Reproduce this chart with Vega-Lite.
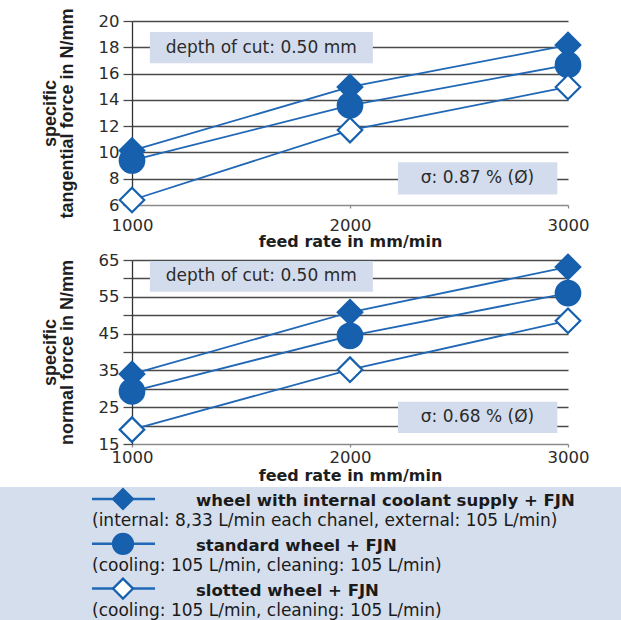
{
  "$schema": "https://vega.github.io/schema/vega-lite/v6.json",
  "background": "white",
  "padding": {"left": 0, "top": 7, "right": 0, "bottom": 0},
  "bounds": "flush",
  "spacing": 55,
  "config": {
    "font": "DejaVu Sans",
    "view": {"stroke": null},
    "axis": {
      "labelFont": "DejaVu Sans",
      "labelFontSize": 16.5,
      "labelColor": "#2b2b2b",
      "titleFont": "DejaVu Sans",
      "titleFontSize": 16,
      "titleFontWeight": "bold",
      "titleColor": "#1e1e1e"
    },
    "axisX": {
      "domainColor": "#8a8a8a",
      "domainWidth": 1.3,
      "tickColor": "#8a8a8a",
      "tickSize": 3,
      "tickWidth": 1.3,
      "grid": false,
      "labelAngle": 0,
      "labelFlush": false
    },
    "axisY": {
      "domainColor": "#333333",
      "domainWidth": 1.3,
      "tickColor": "#4a4a4a",
      "tickSize": 9,
      "tickWidth": 1.3,
      "labelPadding": 4,
      "grid": true,
      "gridColor": "#4a4a4a",
      "gridWidth": 1.3,
      "titleFont": "Liberation Sans",
      "titleFontSize": 18,
      "titleLineHeight": 17,
      "titlePadding": 22
    }
  },
  "datasets": {
    "obs": [
      {"chart": "tangential", "series": "internal", "feed": 1000, "value": 10.14},
      {"chart": "tangential", "series": "internal", "feed": 2000, "value": 14.98},
      {"chart": "tangential", "series": "internal", "feed": 3000, "value": 18.17},
      {"chart": "tangential", "series": "standard", "feed": 1000, "value": 9.39},
      {"chart": "tangential", "series": "standard", "feed": 2000, "value": 13.58},
      {"chart": "tangential", "series": "standard", "feed": 3000, "value": 16.66},
      {"chart": "tangential", "series": "slotted", "feed": 1000, "value": 6.38},
      {"chart": "tangential", "series": "slotted", "feed": 2000, "value": 11.7},
      {"chart": "tangential", "series": "slotted", "feed": 3000, "value": 14.98},
      {"chart": "normal", "series": "internal", "feed": 1000, "value": 34.0},
      {"chart": "normal", "series": "internal", "feed": 2000, "value": 50.8},
      {"chart": "normal", "series": "internal", "feed": 3000, "value": 63.1},
      {"chart": "normal", "series": "standard", "feed": 1000, "value": 29.3},
      {"chart": "normal", "series": "standard", "feed": 2000, "value": 44.4},
      {"chart": "normal", "series": "standard", "feed": 3000, "value": 56.0},
      {"chart": "normal", "series": "slotted", "feed": 1000, "value": 18.9},
      {"chart": "normal", "series": "slotted", "feed": 2000, "value": 35.2},
      {"chart": "normal", "series": "slotted", "feed": 3000, "value": 48.5}
    ],
    "boxes": [
      {"chart": "tangential", "x1": 1082, "x2": 2105, "y1": 19.17, "y2": 16.79, "xm": 1593, "ym": 17.98, "label": "depth of cut: 0.50 mm"},
      {"chart": "tangential", "x1": 2220, "x2": 2951, "y1": 9.26, "y2": 6.8, "xm": 2585, "ym": 8.03, "label": "σ: 0.87 % (Ø)"},
      {"chart": "normal", "x1": 1082, "x2": 2105, "y1": 64.7, "y2": 56.4, "xm": 1593, "ym": 60.55, "label": "depth of cut: 0.50 mm"},
      {"chart": "normal", "x1": 2220, "x2": 2951, "y1": 26.5, "y2": 18.0, "xm": 2585, "ym": 22.25, "label": "σ: 0.68 % (Ø)"}
    ],
    "legend": [
      {"series": "internal", "line": 0, "kind": "title", "text": "wheel with internal coolant supply + FJN"},
      {"series": "internal", "line": 1, "kind": "note", "text": "(internal: 8,33 L/min each chanel, external: 105 L/min)"},
      {"series": "standard", "line": 2, "kind": "title", "text": "standard wheel + FJN"},
      {"series": "standard", "line": 3, "kind": "note", "text": "(cooling: 105 L/min, cleaning: 105 L/min)"},
      {"series": "slotted", "line": 4, "kind": "title", "text": "slotted wheel + FJN"},
      {"series": "slotted", "line": 5, "kind": "note", "text": "(cooling: 105 L/min, cleaning: 105 L/min)"}
    ]
  },
  "vconcat": [
    {
      "width": 436,
      "height": 184,
      "layer": [
        {
          "data": {"name": "boxes"},
          "transform": [{"filter": "datum.chart == 'tangential'"}],
          "mark": {"type": "rect", "fill": "#d3dcec"},
          "encoding": {
            "x": {"field": "x1", "type": "quantitative", "scale": {"domain": [1000, 3000], "nice": false, "zero": false},
                  "axis": {"values": [1000, 2000, 3000], "format": "d", "title": "feed rate in mm/min", "labelPadding": 9, "titlePadding": 0}},
            "x2": {"field": "x2"},
            "y": {"field": "y1", "type": "quantitative", "scale": {"domain": [6, 20], "nice": false, "zero": false},
                  "axis": {"values": [6, 8, 10, 12, 14, 16, 18, 20], "title": ["specific", "tangential force in N/mm"],
                           "gridOpacity": {"condition": {"test": "datum.value == 6", "value": 0}, "value": 1}}},
            "y2": {"field": "y2"}
          }
        },
        {
          "data": {"name": "boxes"},
          "transform": [{"filter": "datum.chart == 'tangential'"}],
          "mark": {"type": "text", "fontSize": 17, "color": "#2b2b2b", "font": "DejaVu Sans"},
          "encoding": {
            "x": {"field": "xm", "type": "quantitative", "scale": {"domain": [1000, 3000], "nice": false, "zero": false},
                  "axis": {"values": [1000, 2000, 3000], "format": "d", "title": "feed rate in mm/min", "labelPadding": 9, "titlePadding": 0}},
            "y": {"field": "ym", "type": "quantitative", "scale": {"domain": [6, 20], "nice": false, "zero": false},
                  "axis": {"values": [6, 8, 10, 12, 14, 16, 18, 20], "title": ["specific", "tangential force in N/mm"],
                           "gridOpacity": {"condition": {"test": "datum.value == 6", "value": 0}, "value": 1}}},
            "text": {"field": "label"}
          }
        },
        {
          "data": {"name": "obs"},
          "transform": [{"filter": "datum.chart == 'tangential'"}],
          "mark": {"type": "line", "color": "#2067b6", "strokeWidth": 1.8},
          "encoding": {
            "x": {"field": "feed", "type": "quantitative", "scale": {"domain": [1000, 3000], "nice": false, "zero": false},
                  "axis": {"values": [1000, 2000, 3000], "format": "d", "title": "feed rate in mm/min", "labelPadding": 9, "titlePadding": 0}},
            "y": {"field": "value", "type": "quantitative", "scale": {"domain": [6, 20], "nice": false, "zero": false},
                  "axis": {"values": [6, 8, 10, 12, 14, 16, 18, 20], "title": ["specific", "tangential force in N/mm"],
                           "gridOpacity": {"condition": {"test": "datum.value == 6", "value": 0}, "value": 1}}},
            "detail": {"field": "series"}
          }
        },
        {
          "data": {"name": "obs"},
          "transform": [{"filter": "datum.chart == 'tangential'"}],
          "mark": {"type": "point", "filled": true, "size": 600, "stroke": "#1660ae", "strokeWidth": 2.2, "opacity": 1},
          "encoding": {
            "x": {"field": "feed", "type": "quantitative", "scale": {"domain": [1000, 3000], "nice": false, "zero": false},
                  "axis": {"values": [1000, 2000, 3000], "format": "d", "title": "feed rate in mm/min", "labelPadding": 9, "titlePadding": 0}},
            "y": {"field": "value", "type": "quantitative", "scale": {"domain": [6, 20], "nice": false, "zero": false},
                  "axis": {"values": [6, 8, 10, 12, 14, 16, 18, 20], "title": ["specific", "tangential force in N/mm"],
                           "gridOpacity": {"condition": {"test": "datum.value == 6", "value": 0}, "value": 1}}},
            "shape": {"field": "series", "type": "nominal", "scale": {"domain": ["internal", "standard", "slotted"], "range": ["diamond", "circle", "diamond"]}, "legend": null},
            "fill": {"field": "series", "type": "nominal", "scale": {"domain": ["internal", "standard", "slotted"], "range": ["#1660ae", "#1660ae", "#ffffff"]}, "legend": null}
          }
        }
      ]
    },
    {
      "width": 436,
      "height": 184,
      "layer": [
        {
          "data": {"name": "boxes"},
          "transform": [{"filter": "datum.chart == 'normal'"}],
          "mark": {"type": "rect", "fill": "#d3dcec"},
          "encoding": {
            "x": {"field": "x1", "type": "quantitative", "scale": {"domain": [1000, 3000], "nice": false, "zero": false},
                  "axis": {"values": [1000, 2000, 3000], "format": "d", "title": "feed rate in mm/min", "labelPadding": 2.5, "titlePadding": 1}},
            "x2": {"field": "x2"},
            "y": {"field": "y1", "type": "quantitative", "scale": {"domain": [15, 65], "nice": false, "zero": false},
                  "axis": {"values": [15, 20, 25, 30, 35, 40, 45, 50, 55, 60, 65], "labelExpr": "datum.value % 10 == 5 ? datum.label : ''",
                           "title": ["specific", "normal force  in N/mm"],
                           "gridOpacity": {"condition": {"test": "datum.value == 15", "value": 0}, "value": 1}}},
            "y2": {"field": "y2"}
          }
        },
        {
          "data": {"name": "boxes"},
          "transform": [{"filter": "datum.chart == 'normal'"}],
          "mark": {"type": "text", "fontSize": 17, "color": "#2b2b2b", "font": "DejaVu Sans"},
          "encoding": {
            "x": {"field": "xm", "type": "quantitative", "scale": {"domain": [1000, 3000], "nice": false, "zero": false},
                  "axis": {"values": [1000, 2000, 3000], "format": "d", "title": "feed rate in mm/min", "labelPadding": 2.5, "titlePadding": 1}},
            "y": {"field": "ym", "type": "quantitative", "scale": {"domain": [15, 65], "nice": false, "zero": false},
                  "axis": {"values": [15, 20, 25, 30, 35, 40, 45, 50, 55, 60, 65], "labelExpr": "datum.value % 10 == 5 ? datum.label : ''",
                           "title": ["specific", "normal force  in N/mm"],
                           "gridOpacity": {"condition": {"test": "datum.value == 15", "value": 0}, "value": 1}}},
            "text": {"field": "label"}
          }
        },
        {
          "data": {"name": "obs"},
          "transform": [{"filter": "datum.chart == 'normal'"}],
          "mark": {"type": "line", "color": "#2067b6", "strokeWidth": 1.8},
          "encoding": {
            "x": {"field": "feed", "type": "quantitative", "scale": {"domain": [1000, 3000], "nice": false, "zero": false},
                  "axis": {"values": [1000, 2000, 3000], "format": "d", "title": "feed rate in mm/min", "labelPadding": 2.5, "titlePadding": 1}},
            "y": {"field": "value", "type": "quantitative", "scale": {"domain": [15, 65], "nice": false, "zero": false},
                  "axis": {"values": [15, 20, 25, 30, 35, 40, 45, 50, 55, 60, 65], "labelExpr": "datum.value % 10 == 5 ? datum.label : ''",
                           "title": ["specific", "normal force  in N/mm"],
                           "gridOpacity": {"condition": {"test": "datum.value == 15", "value": 0}, "value": 1}}},
            "detail": {"field": "series"}
          }
        },
        {
          "data": {"name": "obs"},
          "transform": [{"filter": "datum.chart == 'normal'"}],
          "mark": {"type": "point", "filled": true, "size": 600, "stroke": "#1660ae", "strokeWidth": 2.2, "opacity": 1},
          "encoding": {
            "x": {"field": "feed", "type": "quantitative", "scale": {"domain": [1000, 3000], "nice": false, "zero": false},
                  "axis": {"values": [1000, 2000, 3000], "format": "d", "title": "feed rate in mm/min", "labelPadding": 2.5, "titlePadding": 1}},
            "y": {"field": "value", "type": "quantitative", "scale": {"domain": [15, 65], "nice": false, "zero": false},
                  "axis": {"values": [15, 20, 25, 30, 35, 40, 45, 50, 55, 60, 65], "labelExpr": "datum.value % 10 == 5 ? datum.label : ''",
                           "title": ["specific", "normal force  in N/mm"],
                           "gridOpacity": {"condition": {"test": "datum.value == 15", "value": 0}, "value": 1}}},
            "shape": {"field": "series", "type": "nominal", "scale": {"domain": ["internal", "standard", "slotted"], "range": ["diamond", "circle", "diamond"]}, "legend": null},
            "fill": {"field": "series", "type": "nominal", "scale": {"domain": ["internal", "standard", "slotted"], "range": ["#1660ae", "#1660ae", "#ffffff"]}, "legend": null}
          }
        }
      ]
    },
    {
      "width": 489,
      "height": 112,
      "data": {"name": "legend"},
      "layer": [
        {
          "mark": {"type": "rect", "fill": "#d5deed"},
          "encoding": {
            "x": {"datum": -132, "type": "quantitative", "scale": {"domain": [0, 489], "nice": false, "zero": false}, "axis": null},
            "x2": {"datum": 489},
            "y": {"datum": -0.54, "type": "quantitative", "scale": {"domain": [0, 5], "reverse": true, "nice": false, "zero": false}, "axis": null},
            "y2": {"datum": 5.4}
          }
        },
        {
          "transform": [{"filter": "datum.kind == 'title'"}],
          "mark": {"type": "rule", "color": "#2067b6", "strokeWidth": 2.5},
          "encoding": {
            "x": {"datum": -40, "type": "quantitative", "scale": {"domain": [0, 489], "nice": false, "zero": false}, "axis": null},
            "x2": {"datum": 23},
            "y": {"field": "line", "type": "quantitative", "scale": {"domain": [0, 5], "reverse": true, "nice": false, "zero": false}, "axis": null}
          }
        },
        {
          "transform": [{"filter": "datum.kind == 'title'"}],
          "mark": {"type": "point", "filled": true, "size": 400, "stroke": "#1660ae", "strokeWidth": 2.2, "opacity": 1},
          "encoding": {
            "x": {"datum": -9, "type": "quantitative", "scale": {"domain": [0, 489], "nice": false, "zero": false}, "axis": null},
            "y": {"field": "line", "type": "quantitative", "scale": {"domain": [0, 5], "reverse": true, "nice": false, "zero": false}, "axis": null},
            "shape": {"field": "series", "type": "nominal", "scale": {"domain": ["internal", "standard", "slotted"], "range": ["diamond", "circle", "diamond"]}, "legend": null},
            "fill": {"field": "series", "type": "nominal", "scale": {"domain": ["internal", "standard", "slotted"], "range": ["#1660ae", "#1660ae", "#ffffff"]}, "legend": null}
          }
        },
        {
          "transform": [{"filter": "datum.kind == 'title'"}],
          "mark": {"type": "text", "align": "left", "baseline": "middle", "fontSize": 16.5, "fontWeight": "bold", "color": "#1a1a1a", "font": "DejaVu Sans", "dy": 2},
          "encoding": {
            "x": {"datum": 64, "type": "quantitative", "scale": {"domain": [0, 489], "nice": false, "zero": false}, "axis": null},
            "y": {"field": "line", "type": "quantitative", "scale": {"domain": [0, 5], "reverse": true, "nice": false, "zero": false}, "axis": null},
            "text": {"field": "text"}
          }
        },
        {
          "transform": [{"filter": "datum.kind == 'note'"}],
          "mark": {"type": "text", "align": "left", "baseline": "middle", "fontSize": 17, "color": "#1a1a1a", "font": "DejaVu Sans"},
          "encoding": {
            "x": {"datum": -40, "type": "quantitative", "scale": {"domain": [0, 489], "nice": false, "zero": false}, "axis": null},
            "y": {"field": "line", "type": "quantitative", "scale": {"domain": [0, 5], "reverse": true, "nice": false, "zero": false}, "axis": null},
            "text": {"field": "text"}
          }
        }
      ]
    }
  ]
}
